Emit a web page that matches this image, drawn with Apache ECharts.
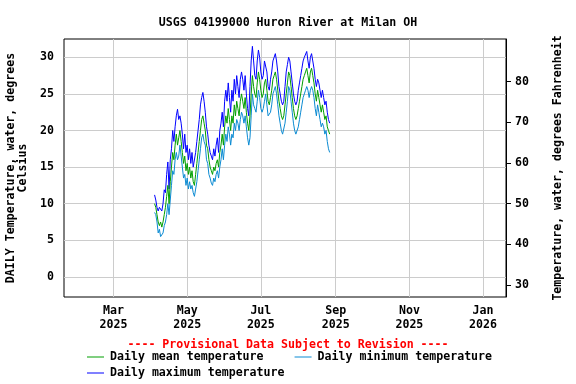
<!DOCTYPE html>
<html>
<head>
<meta charset="utf-8">
<script src="https://cdn.jsdelivr.net/npm/echarts@6/dist/echarts.min.js"></script>
<style>
  html, body { margin: 0; padding: 0; background: #fff; }
  #chart { width: 576px; height: 384px; }
</style>
</head>
<body>
<div id="chart"></div>
<script>
// daily values, one per day starting at startDate
const startDate = '2025-04-04'

const meanTemp = [
  10, 9.5, 8.5, 7.5, 7, 7.5, 6.8, 7.5, 8.5, 9.5,
  11, 12.5, 10, 13, 15, 17, 16, 18, 19.5, 18,
  19, 20, 18.5, 17, 15.5, 16.5, 14.5, 15.5, 14, 15,
  13.5, 14.5, 13, 12.5, 14, 15.5, 17, 18.5, 20, 21.5,
  22, 21, 20, 18, 17.5, 16, 15, 14.5, 14, 15,
  14.5, 15.5, 16, 15, 17, 18, 19.5, 18, 20.5, 22,
  21, 23, 21.5, 20, 22, 21, 23.5, 22, 24, 23,
  22, 24, 25, 24, 23, 24.5, 22.5, 21, 20, 22,
  25, 27.5, 26, 25, 24.5, 26.5, 28, 27, 25.5, 24.5,
  25, 26.5, 27, 25.5, 24, 23.5, 24.5, 25.5, 27, 27.5,
  28, 27, 25.5, 24, 23, 22, 21.5, 22, 23.5, 25,
  26.5, 28, 27.5, 26, 24.5, 23, 22, 21.5, 22, 23,
  24, 25, 26, 27, 27.5, 28, 28.5, 27.5, 26.5, 28,
  28.5, 27.5, 26.5, 25, 24, 25.5, 24.5, 23.5, 22.5, 23.5,
  22.5, 21.5, 22, 20.5, 20, 19.5
]

const minTemp = [
  8.8, 8.5, 7.5, 6, 6.5, 5.5, 5.3, 6, 7, 7.5,
  8.5, 10, 8.5, 10.5, 12.5, 14.5, 14, 16, 17, 16,
  16.5, 18, 16.5, 15, 13.5, 14, 12.5, 13.5, 12, 13,
  12, 12.5, 11.5, 11, 12, 13, 14.5, 16, 17.5, 19,
  19.5, 18.5, 18, 16, 15.5, 14, 13.5, 12.8, 12.5, 13.5,
  13, 14, 14.5, 13.5, 15, 16, 17.5, 16, 18, 19.5,
  18.5, 20.5, 19.5, 18, 19.5, 19, 21, 20, 21.5, 21,
  20, 21.5, 22.5, 22, 21, 22, 20.5, 19, 18, 19,
  22, 25, 23.5, 23, 22.5, 24, 25.5, 24.5, 23, 22.5,
  23, 24, 25, 23.5, 22, 22, 22.5, 23.5, 25, 25.5,
  26, 25, 23.5, 22, 21, 20, 19.5, 19.5, 21, 22.5,
  24, 26, 25.5, 24, 22.5, 21, 20, 19.5, 19.5, 20.5,
  21.5, 22.5, 23.5, 24.5, 25, 25.5, 26, 25.5, 24.5, 25.5,
  26, 25.5, 24.5, 23, 22, 23.5, 22.5, 21.5, 20.5, 21,
  20.5, 19.5, 20, 18.5, 17.5, 17
]

const maxTemp = [
  11.2, 10.5, 9.5, 9, 9.5, 9.4, 9, 10, 11.9, 11.5,
  14, 15.7, 12, 16, 17.5, 20, 18.5, 20.5, 22, 22.9,
  21.5, 22, 21, 19.5, 17.5, 19.5, 17, 18, 16, 17.5,
  15.5, 17, 15, 15, 17, 18.5, 20, 21.5, 23.5, 24.5,
  25.2, 24, 22.5, 20.5, 19.5, 18, 17, 16.5, 16, 17.5,
  16.5, 18, 19, 17, 20, 21, 22.5, 20.5, 24, 25.5,
  24, 26.5, 24.5, 22.5, 25.5, 24, 27, 25, 27.5, 26,
  24.5, 27, 28, 27, 25.5, 27.5, 25, 23, 22, 26,
  29.5, 31.5, 29.5, 27.5, 27, 29.5, 31, 30, 28, 27,
  27.5, 29.5, 29.5, 28, 26, 25.5, 27, 28, 29.5, 30,
  30.5, 29.5, 28, 26, 25, 24, 23.5, 24, 26, 28,
  29, 30, 29.5, 28, 26.5, 25, 24, 23.5, 24, 25.5,
  26.5, 27.5, 28.5, 29.5, 30, 30.2, 30.8, 29.5, 28.5, 30,
  30.5, 29.5, 28.5, 27, 26, 27, 26.5, 25.5, 24.5, 25.5,
  24.5, 23.5, 24, 22.5, 21.5, 21
]

const xTicks = ['2025-03-01', '2025-05-01', '2025-07-01', '2025-09-01', '2025-11-01', '2026-01-01']
const cTicks = [0, 5, 10, 15, 20, 25, 30]
const fTicks = [30, 40, 50, 60, 70, 80]
const monthNames = ['Jan', 'Feb', 'Mar', 'Apr', 'May', 'Jun', 'Jul', 'Aug', 'Sep', 'Oct', 'Nov', 'Dec']

const cMin = -2.75
const cMax = 32.5
const font = 'DejaVu Sans Mono'
const fs = 11.6

const t0 = Date.parse(startDate)
const day = 24 * 3600 * 1000
const pairs = (arr) => arr.map((v, i) => [t0 + i * day, v])

const chart = echarts.init(document.getElementById('chart'), null, { renderer: 'canvas' })

chart.setOption({
  animation: false,
  title: [
    {
      text: 'USGS 04199000 Huron River at Milan OH',
      left: 'center',
      top: 12,
      textStyle: { fontFamily: font, fontSize: fs, fontWeight: 'bold', color: '#000' }
    },
    {
      text: '---- Provisional Data Subject to Revision ----',
      left: 'center',
      top: 334,
      textStyle: { fontFamily: font, fontSize: fs, fontWeight: 'bold', color: '#ff0000' }
    }
  ],
  legend: [
    {
      data: ['Daily mean temperature', 'Daily minimum temperature'],
      left: 87,
      top: 351,
      itemWidth: 17,
      itemHeight: 1,
      itemGap: 31,
      icon: 'rect',
      padding: 0,
      textStyle: { fontFamily: font, fontSize: fs, fontWeight: 'bold', color: '#000', padding: [0, 0, 0, 1] }
    },
    {
      data: ['Daily maximum temperature'],
      left: 87,
      top: 367,
      itemWidth: 17,
      itemHeight: 1,
      icon: 'rect',
      padding: 0,
      textStyle: { fontFamily: font, fontSize: fs, fontWeight: 'bold', color: '#000', padding: [0, 0, 0, 1] }
    }
  ],
  grid: {
    left: 64,
    right: 70,
    top: 39,
    bottom: 87,
    show: true,
    borderColor: '#000',
    borderWidth: 1,
    containLabel: false,
    outerBoundsMode: 'none'
  },
  xAxis: {
    type: 'value',
    min: Date.parse('2025-01-19'),
    max: Date.parse('2026-01-20'),
    axisLine: { show: false },
    axisTick: { show: false, customValues: xTicks.map(Date.parse) },
    axisLabel: {
      customValues: xTicks.map(Date.parse),
      fontFamily: font,
      fontSize: fs,
      fontWeight: 'bold',
      color: '#000',
      margin: 7,
      lineHeight: 14,
      formatter: (v) => {
        const d = new Date(v)
        return monthNames[d.getUTCMonth()] + '\n' + d.getUTCFullYear()
      }
    },
    splitLine: { show: true, lineStyle: { color: '#cccccc', width: 1 } }
  },
  yAxis: [
    {
      type: 'value',
      min: cMin,
      max: cMax,
      name: 'DAILY Temperature, water, degrees\nCelsius',
      nameLocation: 'middle',
      nameGap: 29,
      nameTextStyle: { fontFamily: font, fontSize: fs, fontWeight: 'bold', color: '#000', lineHeight: 12 },
      axisLine: { show: false },
      axisTick: { show: false, customValues: cTicks },
      axisLabel: {
        customValues: cTicks,
        fontFamily: font,
        fontSize: fs,
        fontWeight: 'bold',
        color: '#000',
        margin: 10
      },
      splitLine: { show: true, lineStyle: { color: '#cccccc', width: 1 } }
    },
    {
      type: 'value',
      position: 'right',
      min: cMin * 1.8 + 32,
      max: cMax * 1.8 + 32,
      name: 'Temperature, water, degrees Fahrenheit',
      nameLocation: 'middle',
      nameRotate: 90,
      nameGap: 46,
      nameTextStyle: { fontFamily: font, fontSize: fs, fontWeight: 'bold', color: '#000' },
      axisLine: { show: true, lineStyle: { color: '#000', width: 1 } },
      axisTick: { show: true, length: 5, customValues: fTicks, lineStyle: { color: '#000' } },
      axisLabel: {
        customValues: fTicks,
        fontFamily: font,
        fontSize: fs,
        fontWeight: 'bold',
        color: '#000',
        margin: 9
      },
      splitLine: { show: false }
    }
  ],
  series: [
    {
      name: 'Daily maximum temperature',
      type: 'line',
      data: pairs(maxTemp),
      showSymbol: false,
      lineStyle: { color: '#0000ff', width: 1 },
      itemStyle: { color: '#0000ff' }
    },
    {
      name: 'Daily minimum temperature',
      type: 'line',
      data: pairs(minTemp),
      showSymbol: false,
      lineStyle: { color: '#0a8ad2', width: 1 },
      itemStyle: { color: '#0a8ad2' }
    },
    {
      name: 'Daily mean temperature',
      type: 'line',
      data: pairs(meanTemp),
      showSymbol: false,
      lineStyle: { color: '#009e00', width: 1 },
      itemStyle: { color: '#009e00' }
    }
  ]
})
</script>
</body>
</html>
